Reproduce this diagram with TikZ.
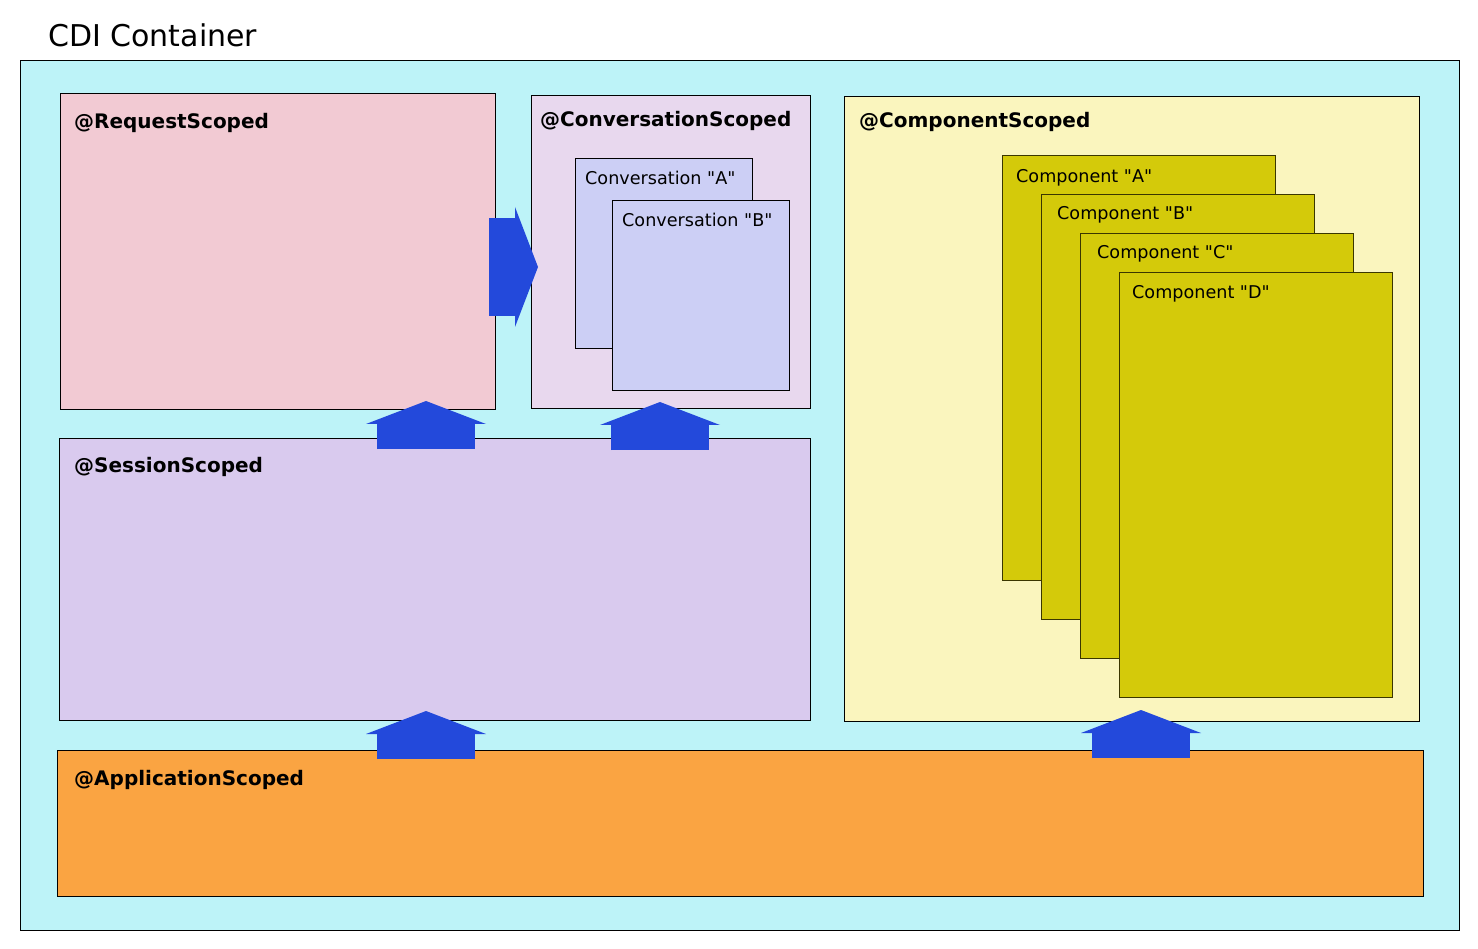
\documentclass[tikz,border=0pt]{standalone}
\usepackage{fontspec}
\setmainfont{DejaVu Sans}
\usetikzlibrary{arrows.meta}
\definecolor{containercyan}{HTML}{BDF3F8}
\definecolor{requestpink}{HTML}{F2CAD3}
\definecolor{convlilac}{HTML}{E8D8EE}
\definecolor{convblue}{HTML}{CCCFF5}
\definecolor{sessionlilac}{HTML}{D9CAEE}
\definecolor{compcream}{HTML}{FAF5BE}
\definecolor{compolive}{HTML}{D4CA0A}
\definecolor{compedge}{HTML}{3A3600}
\definecolor{apporange}{HTML}{FAA442}
\definecolor{arrowblue}{HTML}{2349DB}
\newcommand{\qq}[1]{\textquotedbl#1\textquotedbl}
\begin{document}
\begin{tikzpicture}[x=1pt,y=-1pt,
  scopebox/.style={draw=black, line width=1pt, anchor=north west, inner sep=0pt, outer sep=0pt},
  beanbox/.style={scopebox, minimum width=177pt, minimum height=190pt, fill=convblue},
  compbox/.style={scopebox, draw=compedge, minimum width=273pt, minimum height=424pt, fill=compolive},
  scopelabel/.style={anchor=base west, inner sep=0pt, font=\bfseries\fontsize{20}{24}\selectfont},
  beanlabel/.style={anchor=base west, inner sep=0pt, font=\fontsize{17.6}{20}\selectfont},
  scopearrow/.style={draw=arrowblue, line width=98pt, -{Triangle[length=23pt,width=120pt,line width=0pt]}}]
\useasboundingbox (0,0) rectangle (1478,949);

\node [anchor=base west, inner sep=0pt, font=\fontsize{30}{36}\selectfont] (title) at (48,47) {CDI Container};
\node [scopebox, fill=containercyan, minimum width=1439pt, minimum height=869pt] (container) at (20,61) {};

% request and conversation
\node [scopebox, fill=requestpink, minimum width=435pt, minimum height=316pt] (request) at (60,94) {};
\node [scopelabel] (requestlbl) at ([xshift=14pt,yshift=-35pt]request.north west) {@RequestScoped};
\node [scopebox, fill=convlilac, minimum width=279pt, minimum height=313pt] (conv) at (531,96) {};
\node [scopelabel] (convlbl) at ([xshift=9pt,yshift=-31pt]conv.north west) {@ConversationScoped};
\node [beanbox] (convA) at (575,159) {};
\node [beanlabel] (convAlbl) at ([xshift=10pt,yshift=-26pt]convA.north west) {Conversation \qq{A}};
\node [beanbox] (convB) at (612,201) {};
\node [beanlabel] (convBlbl) at ([xshift=10pt,yshift=-26pt]convB.north west) {Conversation \qq{B}};

% session
\node [scopebox, fill=sessionlilac, minimum width=751pt, minimum height=282pt] (session) at (59,438) {};
\node [scopelabel] (sessionlbl) at ([xshift=15pt,yshift=-34pt]session.north west) {@SessionScoped};

% components
\node [scopebox, fill=compcream, minimum width=575pt, minimum height=624pt] (comp) at (844,97) {};
\node [scopelabel] (complbl) at ([xshift=15pt,yshift=-31pt]comp.north west) {@ComponentScoped};
\node [compbox] (compA) at (1002,156) {};
\node [beanlabel] (compAlbl) at ([xshift=14pt,yshift=-27pt]compA.north west) {Component \qq{A}};
\node [compbox] (compB) at (1041,195) {};
\node [beanlabel] (compBlbl) at ([xshift=16pt,yshift=-25pt]compB.north west) {Component \qq{B}};
\node [compbox] (compC) at (1080,234) {};
\node [beanlabel] (compClbl) at ([xshift=17pt,yshift=-25pt]compC.north west) {Component \qq{C}};
\node [compbox] (compD) at (1119,273) {};
\node [beanlabel] (compDlbl) at ([xshift=13pt,yshift=-26pt]compD.north west) {Component \qq{D}};

% application
\node [scopebox, fill=apporange, minimum width=1366pt, minimum height=146pt] (app) at (57,750) {};
\node [scopelabel] (applbl) at ([xshift=17pt,yshift=-35pt]app.north west) {@ApplicationScoped};

% arrows
\coordinate (reqline) at (426,0);
\coordinate (convline) at (660,0);
\coordinate (compline) at (1141,0);
\coordinate (sideline) at (0,267);
\draw [scopearrow, shorten <=-6pt, shorten >=-7pt] (request.east |- sideline) -- (conv.west |- sideline);
\draw [scopearrow, shorten <=-11pt, shorten >=-9pt] (session.north -| reqline) -- (request.south -| reqline);
\draw [scopearrow, shorten <=-12pt, shorten >=-7pt] (session.north -| convline) -- (conv.south -| convline);
\draw [scopearrow, shorten <=-9pt, shorten >=-9pt] (app.north -| reqline) -- (session.south -| reqline);
\draw [scopearrow, shorten <=-8pt, shorten >=-11pt] (app.north -| compline) -- (comp.south -| compline);
\end{tikzpicture}
\end{document}
